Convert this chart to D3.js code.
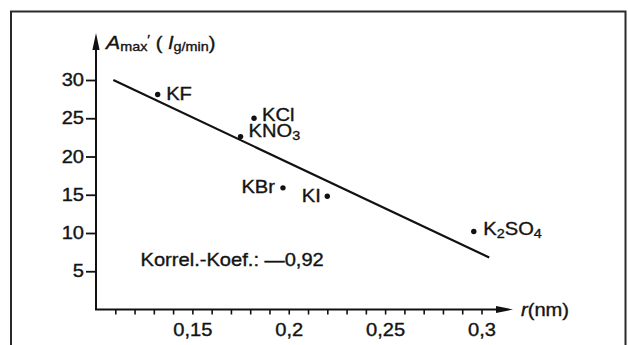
<!DOCTYPE html>
<html>
<head>
<meta charset="utf-8">
<script src="https://cdn.jsdelivr.net/npm/d3@7"></script>
<style>
  html, body { margin: 0; padding: 0; background: #fff; }
  svg { display: block; }
  text { font-family: "Liberation Sans", Arial, Helvetica, sans-serif; fill: #141414; stroke: #141414; stroke-width: 0.35px; }
</style>
</head>
<body>
<svg id="chart" width="628" height="345"></svg>
<script>
// Salts, ionic radius r (nm) and A_max
const salts   = ["KF", "KCl", "KNO3", "KBr", "KI", "K2SO4"];
const radius  = [0.132, 0.182, 0.175, 0.197, 0.220, 0.296];
const amax    = [28.1, 25.0, 22.6, 15.9, 14.8, 10.2];

// Regression line end points
const fitR    = [0.109, 0.304];
const fitA    = [30.0, 6.8];

// Axis ticks
const yTicks      = [5, 10, 15, 20, 25, 30];
const yTickLabels = ["5", "10", "15", "20", "25", "30"];
const xMinorTicks = d3.range(11, 31).map(d => d / 100);
const xMajorTicks = [0.15, 0.2, 0.25, 0.3];
const xTickLabels = ["0,15", "0,2", "0,25", "0,3"];

const corrText = "Korrel.-Koef.: \u20140,92";

// Label placement next to each point: [dx, dy, anchor]
const labelPlace = {
  KF:    [8.5, 5.5, "start"],
  KCl:   [8, 2.5, "start"],
  KNO3:  [8, 0, "start"],
  KBr:   [-8, 5, "end"],
  KI:    [-6.5, 6, "end"],
  K2SO4: [9.5, 3.5, "start"]
};

const FS = 17.5;      // main font size
const SUB = 12.5;     // subscript font size
const SX = 1.15;      // horizontal stretch of the lettering
const INK = "#111";

const svg = d3.select("#chart");

// Frame
svg.append("rect")
  .attr("x", 11).attr("y", 11.5)
  .attr("width", 614.5).attr("height", 360)
  .attr("fill", "none").attr("stroke", "#2a2a2a").attr("stroke-width", 2);

const x = d3.scaleLinear().domain([0.1, 0.3]).range([96, 481.5]);
const y = d3.scaleLinear().domain([0, 30]).range([309.5, 80]);

// Axis lines with arrowheads
const axes = svg.append("g").attr("stroke", INK).attr("stroke-width", 2).attr("fill", "none");
axes.append("path").attr("d", `M${x(0.1)},${y(0)}V46`);
axes.append("path").attr("d", `M${x(0.1) - 1},${y(0)}H498`);
svg.append("path")
  .attr("d", `M${x(0.1)},33 L${x(0.1) + 3.6},50 L${x(0.1) - 3.6},50 Z`)
  .attr("fill", INK);
svg.append("path")
  .attr("d", `M513,${y(0)} L496,${y(0) - 3.6} L496,${y(0) + 3.6} Z`)
  .attr("fill", INK);

// Y axis ticks and labels
const yAxis = d3.axisLeft(y)
  .tickValues(yTicks)
  .tickFormat((d, i) => yTickLabels[i])
  .tickSize(10)
  .tickPadding(2);
const gy = svg.append("g").attr("transform", `translate(${x(0.1)},0)`).call(yAxis);
gy.select(".domain").remove();
gy.selectAll(".tick line").attr("stroke", INK).attr("stroke-width", 1.8);
gy.selectAll(".tick text")
  .attr("font-size", FS)
  .attr("font-family", null)
  .attr("fill", "#141414")
  .attr("transform", `scale(${SX},1)`)
  .attr("x", -12 / SX);

// X axis minor ticks
const xAxisMinor = d3.axisBottom(x).tickValues(xMinorTicks).tickSize(5).tickFormat("");
const gxm = svg.append("g").attr("transform", `translate(0,${y(0)})`).call(xAxisMinor);
gxm.select(".domain").remove();
gxm.selectAll(".tick line").attr("stroke", INK).attr("stroke-width", 1.6);

// X axis labels
const xAxisMajor = d3.axisBottom(x)
  .tickValues(xMajorTicks)
  .tickFormat((d, i) => xTickLabels[i])
  .tickSize(0)
  .tickPadding(14);
const gx = svg.append("g").attr("transform", `translate(0,${y(0)})`).call(xAxisMajor);
gx.select(".domain").remove();
gx.selectAll(".tick line").remove();
gx.selectAll(".tick text")
  .attr("font-size", FS)
  .attr("font-family", null)
  .attr("fill", "#141414")
  .attr("transform", `scale(${SX},1)`);

// Helper: stretched text at a point
function stretchedText(px, py, anchor) {
  return svg.append("text")
    .attr("transform", `translate(${px},${py}) scale(${SX},1)`)
    .attr("text-anchor", anchor || "start")
    .attr("font-size", FS);
}

// Axis titles
const yt = stretchedText(106, 48.5);
yt.append("tspan").attr("font-style", "italic").attr("font-size", 18.5).text("A");
yt.append("tspan").attr("font-size", SUB).attr("dy", 2.5).text("max");
yt.append("tspan").attr("font-size", SUB).attr("dy", -7).text("\u2032");
yt.append("tspan").attr("dy", 4.5).text(" ( ");
yt.append("tspan").attr("font-style", "italic").text("I");
yt.append("tspan").attr("font-size", SUB).attr("dy", 2.5).text("g/min");
yt.append("tspan").attr("dy", -2.5).text(")");

const xt = stretchedText(521, 316);
xt.append("tspan").attr("font-style", "italic").text("r");
xt.append("tspan").text("(nm)");

// Regression line
const line = d3.line().x(d => x(d[0])).y(d => y(d[1]));
svg.append("path")
  .datum(fitR.map((r, i) => [r, fitA[i]]))
  .attr("d", line)
  .attr("fill", "none")
  .attr("stroke", INK)
  .attr("stroke-width", 2.2);

// Points
const pts = salts.map((s, i) => ({ name: s, r: radius[i], a: amax[i] }));
svg.append("g").selectAll("circle")
  .data(pts)
  .join("circle")
  .attr("cx", d => x(d.r))
  .attr("cy", d => y(d.a))
  .attr("r", 2.7)
  .attr("fill", INK);

// Point labels with chemical subscripts
pts.forEach(d => {
  const [dx, dy, anchor] = labelPlace[d.name];
  const t = stretchedText(x(d.r) + dx, y(d.a) + dy, anchor);
  const parts = d.name.match(/[A-Za-z]+|\d+/g);
  let sub = false;
  parts.forEach(p => {
    const isNum = /^\d+$/.test(p);
    const ts = t.append("tspan").text(p);
    if (isNum && !sub) { ts.attr("font-size", SUB).attr("dy", 3.5); sub = true; }
    else if (!isNum && sub) { ts.attr("dy", -3.5); sub = false; }
    else if (isNum) { ts.attr("font-size", SUB); }
  });
});

// Correlation coefficient
stretchedText(140.5, 265.5).text(corrText);
</script>
</body>
</html>
